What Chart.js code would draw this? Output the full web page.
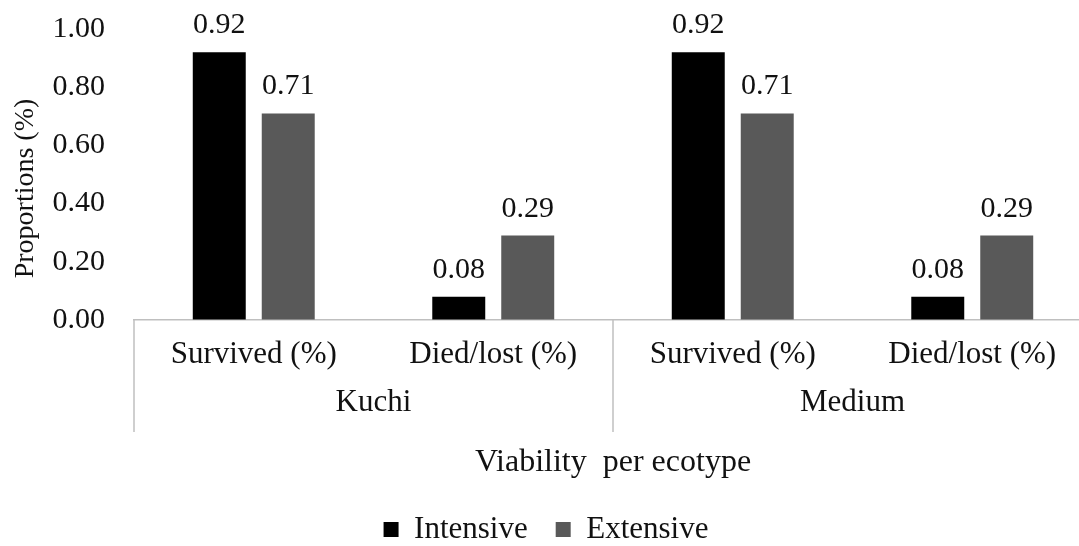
<!DOCTYPE html>
<html>
<head>
<meta charset="utf-8">
<script src="https://cdn.jsdelivr.net/npm/chart.js@4.4.1/dist/chart.umd.min.js"></script>
<style>
  html, body { margin: 0; padding: 0; background: #fff; overflow: hidden; }
  #wrap { width: 1092px; height: 546px; }
</style>
</head>
<body>
<div id="wrap"><canvas id="viabilityChart"></canvas></div>
<script>
// ----------------------------
// DATA
// ----------------------------
const categories = ["Survived (%)", "Died/lost (%)", "Survived (%)", "Died/lost (%)"];
const ecotypes = ["Kuchi", "Medium"];
const intensive = [0.92, 0.08, 0.92, 0.08];
const extensive = [0.71, 0.29, 0.71, 0.29];
const yTicks = [0, 0.2, 0.4, 0.6, 0.8, 1.0];

const FONT = "'Liberation Serif', 'Times New Roman', serif";
const TEXT = "#111";
const AXIS = "#bfbfbf";

// ----------------------------
// PLUGINS
// ----------------------------
// value labels above each bar
const valueLabels = {
  id: "valueLabels",
  afterDatasetsDraw(chart) {
    const ctx = chart.ctx;
    ctx.save();
    ctx.font = "30px " + FONT;
    ctx.fillStyle = TEXT;
    ctx.textAlign = "center";
    ctx.textBaseline = "alphabetic";
    chart.data.datasets.forEach((ds, di) => {
      chart.getDatasetMeta(di).data.forEach((bar, i) => {
        ctx.fillText(ds.data[i].toFixed(2), bar.x, bar.y - 19);
      });
    });
    ctx.restore();
  }
};

// vertical separators between the ecotype groups
const groupLines = {
  id: "groupLines",
  afterDraw(chart) {
    const x = chart.scales.x;
    const x2 = chart.scales.x2;
    const mid = (x.getPixelForValue(1) + x.getPixelForValue(2)) / 2;
    const ctx = chart.ctx;
    ctx.save();
    ctx.strokeStyle = AXIS;
    ctx.lineWidth = 1.5;
    [x.left, mid, x.right].forEach(px => {
      ctx.beginPath();
      ctx.moveTo(px, x.top);
      ctx.lineTo(px, x2.top + 50);
      ctx.stroke();
    });
    ctx.restore();
  }
};

// ----------------------------
// CHART
// ----------------------------
const ctx = document.getElementById("viabilityChart").getContext("2d");

new Chart(ctx, {
  type: "bar",
  data: {
    labels: categories,
    datasets: [
      {
        label: "Intensive",
        data: intensive,
        backgroundColor: "#000000",
        borderWidth: 0,
        categoryPercentage: 0.576,
        barPercentage: 0.768
      },
      {
        label: "Extensive",
        data: extensive,
        backgroundColor: "#595959",
        borderWidth: 0,
        categoryPercentage: 0.576,
        barPercentage: 0.768
      }
    ]
  },
  options: {
    responsive: true,
    maintainAspectRatio: false,
    animation: false,
    layout: { padding: { top: 29, right: 0, bottom: -9, left: 0 } },
    plugins: {
      tooltip: { enabled: false },
      legend: {
        position: "bottom",
        labels: {
          boxWidth: 15,
          boxHeight: 15,
          padding: 28,
          color: TEXT,
          font: { family: FONT, size: 31 }
        }
      }
    },
    scales: {
      y: {
        min: 0,
        max: 1,
        afterBuildTicks: s => { s.ticks = yTicks.map(v => ({ value: v })); },
        afterFit: s => { s.width = 134; },
        // invisible tick marks push the labels away from the plot
        grid: { display: true, drawOnChartArea: false, drawTicks: true, tickLength: 24, color: "rgba(0,0,0,0)" },
        border: { display: false },
        ticks: {
          padding: 5,
          color: TEXT,
          font: { family: FONT, size: 30 },
          callback: v => Number(v).toFixed(2)
        },
        title: {
          display: true,
          text: "Proportions (%)    ",
          color: TEXT,
          font: { family: FONT, size: 28 },
          padding: { top: 9, bottom: 0 }
        }
      },
      x: {
        afterFit: s => { s.height = 62; },
        grid: { display: false, drawTicks: false },
        border: { display: true, color: AXIS, width: 1.5 },
        ticks: {
          padding: 16,
          color: TEXT,
          maxRotation: 0,
          autoSkip: false,
          font: { family: FONT, size: 31 }
        }
      },
      x2: {
        type: "category",
        position: "bottom",
        labels: ecotypes,
        offset: true,
        afterFit: s => { s.height = 104; },
        grid: { display: false, drawTicks: false },
        border: { display: false },
        ticks: {
          padding: 2,
          color: TEXT,
          font: { family: FONT, size: 31 }
        },
        title: {
          display: true,
          text: "Viability  per ecotype",
          color: TEXT,
          font: { family: FONT, size: 32 },
          padding: { top: 0, bottom: 4 }
        }
      }
    }
  },
  plugins: [valueLabels, groupLines]
});
</script>
</body>
</html>
